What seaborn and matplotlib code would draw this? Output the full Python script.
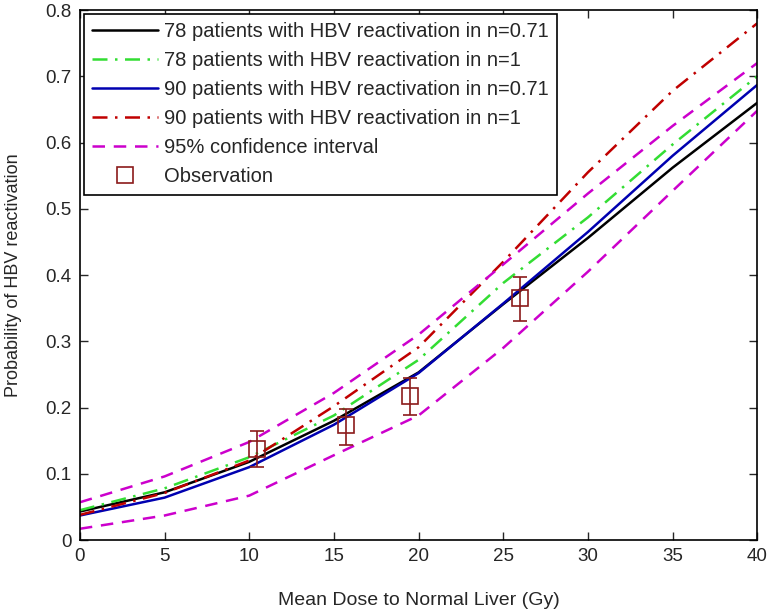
import matplotlib
matplotlib.use("Agg")
import matplotlib.pyplot as plt
import seaborn as sns
import numpy as np
import pandas as pd

# ---- data ----
dose = [0, 5, 10, 15, 20, 25, 30, 35, 40]
p78_n071 = [0.043, 0.072, 0.118, 0.180, 0.253, 0.356, 0.456, 0.562, 0.660]
p78_n1 = [0.045, 0.078, 0.125, 0.188, 0.272, 0.388, 0.487, 0.597, 0.700]
p90_n071 = [0.037, 0.064, 0.110, 0.174, 0.252, 0.357, 0.465, 0.580, 0.687]
p90_n1 = [0.038, 0.071, 0.120, 0.202, 0.291, 0.420, 0.555, 0.678, 0.780]
ci_upper = [0.057, 0.096, 0.148, 0.222, 0.310, 0.416, 0.523, 0.625, 0.720]
ci_lower = [0.017, 0.037, 0.067, 0.128, 0.188, 0.290, 0.405, 0.527, 0.648]

obs_dose = [10.45, 15.7, 19.5, 26.0]
obs_prob = [0.138, 0.173, 0.217, 0.365]
obs_low = [0.110, 0.143, 0.189, 0.330]
obs_high = [0.165, 0.198, 0.245, 0.397]

labels = [
    "78 patients with HBV reactivation in n=0.71",
    "78 patients with HBV reactivation in n=1",
    "90 patients with HBV reactivation in n=0.71",
    "90 patients with HBV reactivation in n=1",
    "95% confidence interval",
    "Observation",
]

sns.set_style("ticks")
plt.rcParams['font.family'] = ['Liberation Sans', 'DejaVu Sans']

fig = plt.figure(figsize=(7.68, 6.12), dpi=100)
ax = fig.add_axes([0.104, 0.1176, 0.882, 0.866])

DASHDOT = (0, (6, 3, 1, 3))
DASHED = (0, (5, 3.5))

series = [
    (p78_n071, labels[0], "black", "-"),
    (p78_n1, labels[1], "#33dd33", DASHDOT),
    (p90_n071, labels[2], "#0000b0", "-"),
    (p90_n1, labels[3], "#c00000", DASHDOT),
]
for vals, lab, col, ls in series:
    sns.lineplot(x=dose, y=vals, color=col, linestyle=ls, linewidth=1.8,
                 label=lab, ax=ax)

sns.lineplot(x=dose, y=ci_upper, color="#cc00cc", linestyle=DASHED,
             linewidth=1.8, label=labels[4], ax=ax)
sns.lineplot(x=dose, y=ci_lower, color="#cc00cc", linestyle=DASHED,
             linewidth=1.8, label="_nolegend_", ax=ax)

obs_prob_a = np.array(obs_prob)
yerr = [obs_prob_a - np.array(obs_low), np.array(obs_high) - obs_prob_a]
ax.errorbar(obs_dose, obs_prob, yerr=yerr, fmt="none", ecolor="#8b1a1a",
            elinewidth=1.2, capsize=5, capthick=1.2, zorder=4)
ax.plot(obs_dose, obs_prob, linestyle="none", marker="s", markersize=11,
        markerfacecolor="none", markeredgecolor="#8b1a1a",
        markeredgewidth=1.2, label=labels[5], zorder=5)

ax.set_xlim(0, 40)
ax.set_ylim(0, 0.8)
ax.set_xticks(np.arange(0, 41, 5))
ax.set_yticks(np.round(np.arange(0, 0.81, 0.1), 1))
ax.set_yticklabels(["0", "0.1", "0.2", "0.3", "0.4", "0.5", "0.6", "0.7", "0.8"])
ax.tick_params(direction="in", top=True, right=True, labelsize=13.5,
               length=6, width=1, pad=6)
for s in ax.spines.values():
    s.set_linewidth(1.2)
    s.set_color("black")

ax.set_xlabel("Mean Dose to Normal Liver (Gy)", fontsize=14, labelpad=19)
ax.set_ylabel("Probability of HBV reactivation", fontsize=13, labelpad=17)

handles, labs = ax.get_legend_handles_labels()
leg = ax.legend(handles, labs, loc="upper left", fontsize=14.5,
                frameon=True, fancybox=False, edgecolor="black",
                framealpha=1, handlelength=3.3, handletextpad=0.3,
                labelspacing=0.5, borderaxespad=0.2, borderpad=0.4)
leg.get_frame().set_linewidth(1.2)

fig.savefig("out.png", dpi=100)
